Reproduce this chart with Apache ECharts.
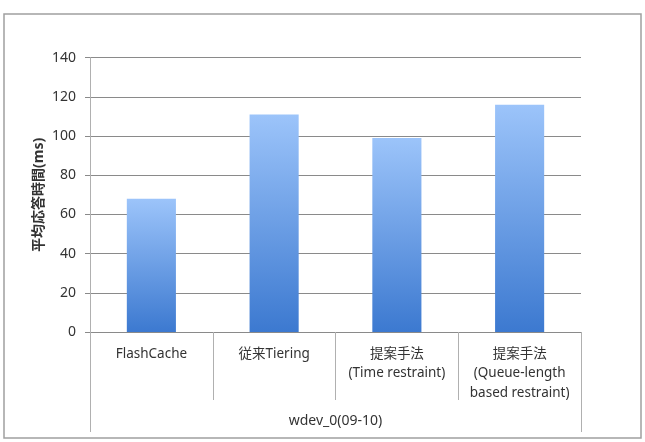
<!DOCTYPE html>
<html><head><meta charset="utf-8">
<script src="https://cdn.jsdelivr.net/npm/echarts@6/dist/echarts.min.js"></script>
<style>html,body{margin:0;padding:0;background:#fff;}#c{width:645px;height:442px;}</style>
</head><body><div id="c"></div>
<script>
const categories = ['FlashCache', '従来Tiering', '提案手法\n(Time restraint)', '提案手法\n(Queue-length\nbased restraint)'];
const groupLabels = ['wdev_0(09-10)'];
const values = [68, 111, 99, 116];
const yTicks = [0, 20, 40, 60, 80, 100, 120, 140];
const yName = '平均応答時間(ms)';

const font = '"Noto Sans", "Noto Sans CJK JP", sans-serif';
const chart = echarts.init(document.getElementById('c'));
chart.setOption({
  animation: false,
  backgroundColor: '#fff',
  graphic: [{
    type: 'rect', shape: {x: 4, y: 14, width: 637, height: 424},
    style: {fill: 'none', stroke: '#a0a0a0', lineWidth: 1.5}, silent: true
  }],
  grid: {left: 90, right: 64, top: 57.6, bottom: 110},
  xAxis: [{
    type: 'category', data: categories, position: 'bottom',
    axisLine: {lineStyle: {color: '#8a8a8a', width: 1}},
    axisTick: {show: true, length: 68, lineStyle: {color: '#b0b0b0'}},
    axisLabel: {interval: 0, margin: 12, fontSize: 13.5, lineHeight: 19.5, color: '#333', fontFamily: font}
  }, {
    type: 'category', data: groupLabels, position: 'bottom',
    axisLine: {show: false},
    axisTick: {show: true, length: 100, lineStyle: {color: '#b0b0b0'}},
    axisLabel: {margin: 82, fontSize: 14, color: '#333', fontFamily: font}
  }],
  yAxis: {
    type: 'value', min: yTicks[0], max: yTicks[yTicks.length - 1], interval: 20,
    name: yName, nameLocation: 'middle', nameRotate: 90, nameGap: 44, nameMoveOverlap: false,
    nameTextStyle: {fontSize: 14, fontWeight: 'bold', color: '#333', fontFamily: font},
    axisLine: {show: true, lineStyle: {color: '#b0b0b0'}},
    axisTick: {show: true, length: 5, lineStyle: {color: '#8a8a8a'}},
    axisLabel: {fontSize: 14, color: '#333', margin: 14, fontFamily: font},
    splitLine: {lineStyle: {color: '#8a8a8a', width: 1}}
  },
  series: [{
    type: 'bar', data: values, xAxisIndex: 0, barWidth: '40%',
    itemStyle: {color: new echarts.graphic.LinearGradient(0, 0, 0, 1, [
      {offset: 0, color: '#9cc4fa'}, {offset: 1, color: '#3c79d0'}
    ])}
  }]
});
</script></body></html>
